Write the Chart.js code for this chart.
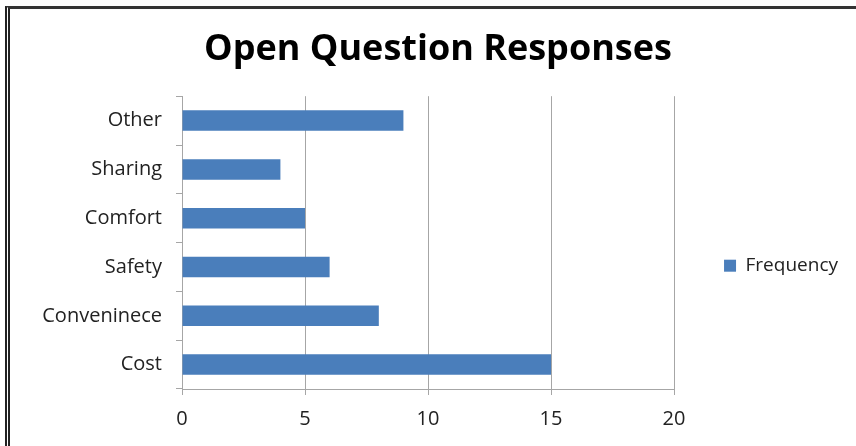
<!DOCTYPE html>
<html>
<head>
<meta charset="utf-8">
<script src="https://cdn.jsdelivr.net/npm/chart.js@4.4.0/dist/chart.umd.min.js"></script>
<style>
  html, body { margin: 0; padding: 0; background: #fff; }
  #wrap { position: relative; width: 856px; height: 446px; }
  #frame { position: absolute; left: 5px; top: 6px; right: 0; bottom: 0;
           border-left: 5px double #222; border-top: 3px solid #333; pointer-events: none; }
</style>
</head>
<body>
<div id="wrap">
  <canvas id="c" width="856" height="446"></canvas>
  <div id="frame"></div>
</div>
<script>
const categories = ["Other", "Sharing", "Comfort", "Safety", "Conveninece", "Cost"];
const frequency = [9, 4, 5, 6, 8, 15];
const xTicks = [0, 5, 10, 15, 20];
const seriesName = "Frequency";
const titleText = "Open Question Responses";

const FONT = "'Open Sans', Lato, 'Liberation Sans', sans-serif";
const gridColor = "#a6a6a6";

new Chart(document.getElementById("c"), {
  type: "bar",
  data: {
    labels: categories,
    datasets: [{
      label: seriesName,
      data: frequency,
      backgroundColor: "#4a7ebb",
      borderWidth: 0,
      categoryPercentage: 1.0,
      barPercentage: 0.42
    }]
  },
  options: {
    indexAxis: "y",
    responsive: false,
    animation: false,
    layout: { padding: { left: 28, right: 8, top: 12, bottom: 3 } },
    plugins: {
      title: {
        display: true,
        text: titleText,
        color: "#000",
        font: { family: FONT, size: 36, weight: "bold" },
        padding: { top: 16, bottom: 25 }
      },
      legend: {
        display: true,
        position: "right",
        title: { display: true, text: " ", padding: { top: 62, bottom: 0 }, font: { size: 12 } },
        labels: {
          color: "#222",
          font: { family: FONT, size: 19 },
          boxWidth: 12,
          boxHeight: 12,
          padding: 50
        }
      },
      tooltip: { enabled: false }
    },
    scales: {
      x: {
        min: 0, max: 20,
        afterBuildTicks: (axis) => { axis.ticks = xTicks.map(v => ({ value: v })); },
        ticks: { color: "#222", font: { family: FONT, size: 20 }, padding: 12 },
        grid: { color: gridColor, lineWidth: 1, tickLength: 6, drawTicks: true },
        border: { color: gridColor, width: 1 }
      },
      y: {
        afterFit: (axis) => { axis.width = 154; },
        ticks: { color: "#222", font: { family: FONT, size: 20 }, padding: 14 },
        grid: { offset: true, drawOnChartArea: false, drawTicks: true, tickLength: 6, color: gridColor },
        border: { color: gridColor, width: 1 }
      }
    }
  }
});
</script>
</body>
</html>
